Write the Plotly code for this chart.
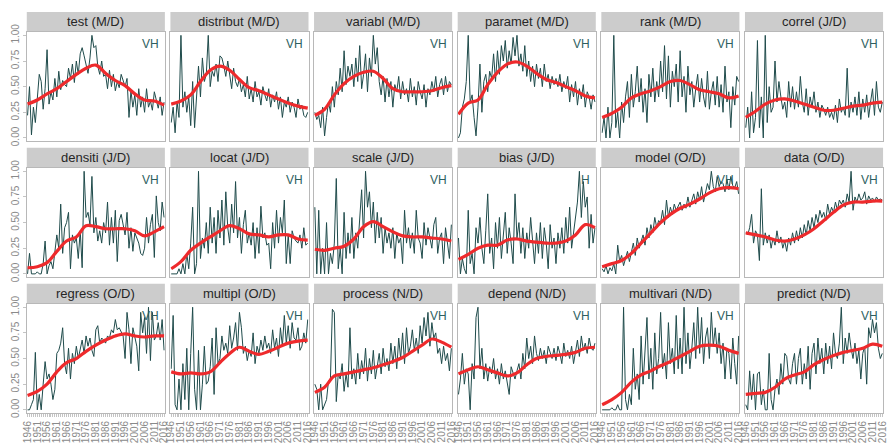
import plotly.graph_objects as go

# ---- data -------------------------------------------------------------
years = list(range(1946, 2017))
trend_years = list(range(1946, 2017, 5))
year_ticks = list(range(1946, 2017, 5))
y_ticks = [0.0, 0.25, 0.5, 0.75, 1.0]
y_tick_text = ["0.00", "0.25", "0.50", "0.75", "1.00"]

panel_titles = ["test (M/D)", "distribut (M/D)", "variabl (M/D)", "paramet (M/D)",
                "rank (M/D)", "correl (J/D)", "densiti (J/D)", "locat (J/D)",
                "scale (J/D)", "bias (J/D)", "model (O/D)", "data (O/D)",
                "regress (O/D)", "multipl (O/D)", "process (N/D)", "depend (N/D)",
                "multivari (N/D)", "predict (N/D)"]
panel_badges = ["VH", "VH", "VH", "VH", "VH", "VH", "VH", "VH", "VH", "H",
                "VH", "VH", "VH", "VH", "VH", "VH", "VH", "VH"]

test_vals = [0.22, 0.50, 0.03, 0.30, 0.15, 0.38, 0.62, 0.55, 0.28, 0.48,
             0.86, 0.33, 0.45, 0.37, 0.58, 0.40, 0.65, 0.47, 0.56, 0.52,
             0.50, 0.68, 0.58, 0.72, 0.54, 0.75, 0.62, 0.82, 0.88, 0.80,
             0.70, 0.63, 0.78, 1.00, 0.88, 0.90, 0.70, 0.62, 0.75, 0.60,
             0.62, 0.48, 0.66, 0.50, 0.62, 0.46, 0.55, 0.49, 0.62, 0.55,
             0.50, 0.58, 0.20, 0.46, 0.30, 0.42, 0.22, 0.48, 0.30, 0.40,
             0.25, 0.48, 0.30, 0.36, 0.27, 0.45, 0.38, 0.29, 0.40, 0.22, 0.35]
test_trend = [0.33, 0.37, 0.43, 0.48, 0.55, 0.62, 0.68, 0.71, 0.63, 0.56, 0.51, 0.43, 0.37, 0.36, 0.32]

distribut_vals = [0.15, 0.30, 0.05, 0.35, 0.20, 1.00, 0.30, 0.45, 0.25, 0.40,
                  0.12, 0.55, 0.10, 0.45, 0.70, 0.40, 0.78, 0.55, 0.62, 1.00,
                  0.50, 0.65, 0.60, 0.72, 0.55, 0.80, 0.78, 0.70, 0.60, 0.75,
                  0.62, 0.48, 0.68, 0.55, 0.50, 0.58, 0.45, 0.52, 0.40, 0.60,
                  0.38, 0.48, 0.35, 0.55, 0.40, 0.45, 0.32, 0.50, 0.42, 0.36,
                  0.48, 0.30, 0.42, 0.35, 0.45, 0.28, 0.40, 0.20, 0.35, 0.30,
                  0.40, 0.25, 0.35, 0.30, 0.20, 0.38, 0.28, 0.32, 0.22, 0.20, 0.25]
distribut_trend = [0.33, 0.36, 0.42, 0.55, 0.66, 0.70, 0.66, 0.57, 0.49, 0.46, 0.42, 0.38, 0.34, 0.31, 0.29]

variabl_vals = [0.25, 0.18, 0.22, 0.10, 0.30, 0.02, 0.20, 0.35, 0.25, 0.50,
                0.30, 0.55, 0.42, 0.68, 0.45, 0.85, 0.52, 0.70, 0.60, 0.72,
                0.50, 0.78, 0.55, 0.90, 0.48, 0.62, 0.82, 0.45, 0.78, 0.60,
                1.00, 0.72, 0.88, 0.55, 0.42, 0.60, 0.35, 0.58, 0.40, 0.55,
                0.30, 0.52, 0.45, 0.60, 0.38, 0.55, 0.42, 0.48, 0.35, 0.58,
                0.40, 0.50, 0.32, 0.55, 0.45, 0.38, 0.52, 0.30, 0.48, 0.42,
                0.55, 0.45, 0.60, 0.40, 0.52, 0.58, 0.42, 0.60, 0.45, 0.55, 0.52]
variabl_trend = [0.22, 0.28, 0.42, 0.53, 0.60, 0.64, 0.65, 0.58, 0.48, 0.45, 0.45, 0.45, 0.46, 0.49, 0.51]

paramet_vals = [0.00, 0.05, 0.30, 0.38, 0.55, 1.00, 0.35, 0.42, 0.20, 0.02,
                0.30, 0.72, 0.25, 0.55, 0.62, 0.45, 0.65, 0.58, 0.82, 0.55,
                0.85, 0.62, 0.90, 0.75, 0.95, 0.68, 0.85, 0.72, 0.98, 0.80,
                1.00, 0.70, 0.82, 0.65, 0.90, 0.60, 0.75, 0.55, 0.70, 0.50,
                0.72, 0.58, 0.68, 0.50, 0.72, 0.55, 0.62, 0.48, 0.60, 0.52,
                0.58, 0.50, 0.62, 0.45, 0.55, 0.48, 0.60, 0.35, 0.52, 0.40,
                0.55, 0.32, 0.48, 0.38, 0.52, 0.30, 0.45, 0.40, 0.28, 0.42, 0.35]
paramet_trend = [0.23, 0.34, 0.37, 0.52, 0.64, 0.72, 0.74, 0.70, 0.63, 0.57, 0.54, 0.50, 0.46, 0.41, 0.39]

rank_vals = [0.05, 0.20, 0.00, 0.30, 0.00, 0.15, 1.00, 0.10, 0.25, 0.00,
             0.35, 0.15, 0.40, 0.55, 0.20, 0.62, 0.30, 0.45, 0.70, 0.35,
             0.58, 0.25, 0.48, 0.15, 0.62, 0.40, 0.68, 0.35, 0.55, 0.40,
             0.75, 0.45, 0.90, 0.38, 0.80, 0.30, 0.65, 0.50, 0.72, 0.35,
             0.85, 0.40, 0.60, 0.25, 0.70, 0.42, 0.55, 0.30, 0.48, 0.62,
             0.35, 0.58, 0.40, 0.30, 0.65, 0.28, 0.45, 0.55, 0.32, 0.60,
             0.30, 0.52, 0.25, 0.70, 0.35, 0.45, 0.10, 0.50, 0.32, 0.60, 0.55]
rank_trend = [0.20, 0.24, 0.30, 0.39, 0.43, 0.46, 0.50, 0.55, 0.56, 0.52, 0.47, 0.45, 0.43, 0.39, 0.41]

correl_vals = [0.10, 0.30, 0.00, 0.45, 0.05, 0.20, 0.95, 0.10, 0.40, 0.00,
               1.00, 0.15, 0.50, 0.25, 0.30, 0.75, 0.35, 0.55, 0.40, 0.28,
               0.35, 0.20, 0.55, 0.30, 0.50, 0.28, 0.45, 0.30, 0.60, 0.35,
               0.25, 0.48, 0.22, 0.40, 0.30, 0.45, 0.25, 0.35, 0.20, 0.32,
               0.28, 0.22, 0.30, 0.20, 0.25, 0.18, 0.32, 0.15, 0.38, 0.25,
               0.30, 0.22, 0.68, 0.20, 0.35, 0.25, 0.40, 0.22, 0.45, 0.18,
               0.38, 0.25, 0.42, 0.20, 0.35, 0.48, 0.22, 0.55, 0.30, 0.25, 0.35]
correl_trend = [0.20, 0.26, 0.33, 0.37, 0.38, 0.36, 0.33, 0.30, 0.27, 0.27, 0.29, 0.31, 0.32, 0.34, 0.35]

densiti_vals = [0.00, 0.20, 0.00, 0.00, 0.00, 0.02, 0.00, 0.00, 0.10, 0.32,
                0.00, 0.08, 0.12, 0.05, 0.20, 0.38, 0.25, 0.68, 0.20, 0.45,
                0.50, 0.60, 0.05, 0.38, 0.30, 0.35, 0.15, 0.42, 0.06, 1.00,
                0.55, 0.60, 0.48, 0.95, 0.40, 0.55, 0.32, 0.42, 0.30, 0.50,
                0.40, 0.70, 0.28, 0.55, 0.30, 0.62, 0.12, 0.52, 0.58, 0.48,
                0.38, 0.60, 0.25, 0.45, 0.22, 0.40, 0.35, 0.30, 0.20, 0.18,
                0.25, 0.55, 0.30, 0.48, 0.58, 0.16, 0.76, 0.50, 0.42, 0.70, 0.55]
densiti_trend = [0.06, 0.07, 0.11, 0.22, 0.32, 0.36, 0.47, 0.46, 0.44, 0.44, 0.44, 0.42, 0.37, 0.41, 0.46]

locat_vals = [0.00, 0.00, 0.00, 0.00, 0.05, 0.00, 0.10, 0.00, 0.20, 0.05,
              0.30, 0.65, 0.00, 0.10, 1.00, 0.15, 0.35, 0.25, 0.50, 0.20,
              0.65, 0.30, 0.55, 0.20, 0.62, 0.35, 0.72, 0.28, 0.80, 0.45,
              0.30, 0.68, 0.40, 0.90, 0.35, 0.55, 0.20, 0.48, 0.62, 0.30,
              0.40, 0.28, 0.50, 0.15, 0.45, 0.20, 0.66, 0.35, 0.40, 0.28,
              0.30, 0.05, 0.50, 0.25, 0.62, 0.30, 0.55, 0.40, 0.72, 0.10,
              0.38, 0.10, 0.42, 0.35, 0.32, 0.30, 0.38, 0.25, 0.45, 0.28, 0.30]
locat_trend = [0.05, 0.12, 0.23, 0.30, 0.36, 0.42, 0.47, 0.44, 0.39, 0.38, 0.36, 0.38, 0.38, 0.34, 0.33]

scale_vals = [0.65, 0.00, 0.62, 0.00, 0.25, 0.00, 0.50, 0.00, 0.20, 0.10,
              0.30, 0.93, 0.05, 0.25, 0.00, 0.60, 0.15, 0.40, 0.20, 0.55,
              0.15, 0.40, 0.25, 0.60, 0.82, 0.35, 1.00, 0.65, 0.80, 0.45,
              0.70, 0.30, 0.60, 0.35, 0.55, 0.20, 0.45, 0.30, 0.40, 0.25,
              0.45, 0.15, 0.40, 0.30, 0.35, 0.10, 0.62, 0.30, 0.45, 0.25,
              0.40, 0.20, 0.62, 0.35, 0.30, 0.15, 0.50, 0.28, 0.45, 0.35,
              0.25, 0.48, 0.55, 0.20, 0.35, 0.40, 0.10, 0.45, 0.30, 0.15, 0.48]
scale_trend = [0.24, 0.23, 0.25, 0.27, 0.34, 0.46, 0.51, 0.46, 0.41, 0.37, 0.36, 0.36, 0.35, 0.34, 0.32]

bias_vals = [0.35, 0.00, 0.15, 0.05, 0.00, 0.62, 0.10, 0.20, 0.00, 0.45,
             0.30, 0.55, 0.25, 0.10, 0.42, 0.78, 0.20, 0.35, 0.05, 0.50,
             0.25, 0.55, 0.15, 0.40, 0.60, 0.20, 0.45, 0.30, 0.10, 0.78,
             0.35, 0.50, 0.20, 0.45, 0.15, 0.40, 0.25, 0.55, 0.30, 0.10,
             0.40, 0.20, 0.50, 0.15, 0.45, 0.30, 0.05, 0.48, 0.25, 0.35,
             0.10, 0.40, 0.25, 0.45, 0.20, 0.55, 0.30, 0.65, 0.25, 0.40,
             0.50, 0.70, 1.00, 0.55, 0.90, 0.65, 0.75, 0.25, 0.58, 0.30, 0.45]
bias_trend = [0.14, 0.19, 0.25, 0.28, 0.28, 0.33, 0.34, 0.32, 0.31, 0.30, 0.30, 0.32, 0.38, 0.48, 0.45]

model_vals = [0.05, 0.02, 0.08, 0.00, 0.06, 0.03, 0.10, 0.00, 0.28, 0.12,
              0.18, 0.08, 0.15, 0.22, 0.12, 0.20, 0.30, 0.18, 0.35, 0.25,
              0.32, 0.38, 0.28, 0.45, 0.35, 0.48, 0.40, 0.55, 0.45, 0.52,
              0.50, 0.62, 0.48, 0.72, 0.55, 0.65, 0.58, 0.68, 0.62, 0.66,
              0.70, 0.62, 0.68, 0.64, 0.75, 0.65, 0.72, 0.78, 0.68, 0.80,
              0.72, 0.85, 0.70, 0.78, 0.88, 0.82, 1.00, 0.85, 0.80, 0.95,
              0.85, 0.90, 0.88, 0.80, 0.92, 0.82, 0.95, 0.86, 0.84, 0.90, 0.78]
model_trend = [0.07, 0.10, 0.13, 0.20, 0.30, 0.40, 0.50, 0.58, 0.64, 0.68, 0.73, 0.79, 0.83, 0.84, 0.83]

data_vals = [0.40, 0.38, 0.45, 0.58, 0.30, 0.42, 0.38, 0.13, 0.83, 0.28,
             0.40, 0.30, 0.38, 0.25, 0.35, 0.28, 0.42, 0.30, 0.36, 0.25,
             0.32, 0.22, 0.35, 0.28, 0.40, 0.30, 0.42, 0.32, 0.45, 0.35,
             0.48, 0.38, 0.52, 0.42, 0.55, 0.45, 0.58, 0.50, 0.62, 0.55,
             0.60, 0.52, 0.68, 0.58, 0.65, 0.60, 0.70, 0.62, 0.72, 0.68,
             0.72, 0.65, 0.78, 0.70, 1.00, 0.62, 0.75, 0.70, 0.78, 0.72,
             0.74, 0.80, 0.68, 0.76, 0.72, 0.74, 0.70, 0.75, 0.72, 0.73, 0.72]
data_trend = [0.40, 0.38, 0.36, 0.33, 0.32, 0.34, 0.38, 0.44, 0.52, 0.60, 0.67, 0.70, 0.70, 0.71, 0.71]

regress_vals = [0.00, 0.00, 0.05, 0.10, 0.56, 0.00, 0.15, 0.00, 0.25, 0.47,
                0.30, 0.35, 0.25, 0.10, 0.20, 0.55, 0.58, 0.65, 0.80, 0.45,
                0.35, 0.60, 0.30, 0.55, 0.45, 0.62, 0.50, 0.58, 0.68, 0.55,
                0.72, 0.62, 0.70, 0.58, 0.52, 0.78, 0.82, 0.65, 0.70, 0.68,
                0.65, 0.72, 0.70, 0.78, 0.75, 0.88, 0.78, 0.80, 0.75, 0.72,
                0.50, 0.95, 0.78, 0.45, 0.80, 0.70, 0.62, 0.38, 0.95, 0.75,
                0.90, 0.55, 1.00, 0.48, 0.95, 0.68, 0.72, 0.85, 0.68, 0.88, 0.58]
regress_trend = [0.14, 0.18, 0.25, 0.37, 0.46, 0.50, 0.57, 0.63, 0.68, 0.72, 0.74, 0.72, 0.71, 0.72, 0.72]

multipl_vals = [0.40, 0.92, 0.05, 0.00, 0.30, 0.00, 0.45, 0.10, 0.60, 0.00,
                0.55, 1.00, 0.20, 0.00, 0.58, 0.00, 0.25, 0.62, 0.25, 0.28,
                0.42, 0.70, 0.15, 0.80, 0.45, 0.50, 0.72, 0.58, 0.65, 0.55,
                0.82, 0.60, 0.70, 0.85, 0.58, 0.95, 0.80, 0.55, 0.62, 0.48,
                0.58, 0.52, 0.75, 0.45, 0.62, 0.55, 0.68, 0.58, 0.72, 0.60,
                0.65, 0.55, 0.78, 0.60, 0.70, 0.52, 0.80, 0.62, 0.92, 0.65,
                0.82, 0.60, 0.85, 0.70, 0.68, 0.80, 0.58, 0.62, 0.75, 0.65, 0.88]
multipl_trend = [0.37, 0.35, 0.36, 0.35, 0.37, 0.46, 0.55, 0.61, 0.57, 0.54, 0.57, 0.61, 0.65, 0.67, 0.68]

process_vals = [0.25, 0.20, 0.00, 0.25, 0.00, 0.05, 0.10, 0.28, 0.30, 0.98,
                0.95, 0.08, 0.35, 0.30, 0.45, 0.18, 0.35, 0.22, 0.80, 0.30,
                0.40, 0.25, 0.55, 0.30, 0.48, 0.35, 0.60, 0.28, 0.50, 0.35,
                0.58, 0.30, 0.45, 0.55, 0.35, 0.60, 0.42, 0.50, 0.38, 0.65,
                0.45, 0.62, 0.40, 0.70, 0.50, 0.75, 0.45, 0.80, 0.55, 0.62,
                0.78, 0.58, 0.70, 0.55, 0.82, 0.65, 0.90, 0.72, 0.95, 0.62,
                0.85, 0.70, 0.75, 0.55, 0.60, 0.45, 0.62, 0.48, 0.55, 0.38, 0.60]
process_trend = [0.17, 0.22, 0.33, 0.35, 0.37, 0.39, 0.41, 0.44, 0.47, 0.51, 0.57, 0.63, 0.69, 0.66, 0.61]

depend_vals = [0.15, 0.30, 0.55, 0.25, 0.40, 0.35, 0.00, 0.45, 0.30, 0.90,
               1.00, 0.40, 0.60, 0.30, 0.45, 0.28, 0.42, 0.35, 0.50, 0.30,
               0.40, 0.25, 0.45, 0.30, 0.38, 0.25, 0.15, 0.42, 0.35, 0.30,
               0.38, 0.45, 0.30, 0.55, 0.40, 0.70, 0.50, 0.62, 0.45, 0.72,
               0.55, 0.48, 0.60, 0.50, 0.58, 0.45, 0.62, 0.55, 0.50, 0.60,
               0.48, 0.62, 0.55, 0.45, 0.65, 0.52, 0.58, 0.50, 0.62, 0.45,
               0.55, 0.68, 0.52, 0.72, 0.58, 0.65, 0.55, 0.70, 0.60, 0.58, 0.65]
depend_trend = [0.35, 0.39, 0.42, 0.39, 0.36, 0.33, 0.36, 0.44, 0.50, 0.52, 0.53, 0.54, 0.56, 0.60, 0.61]

multivari_vals = [0.00, 0.00, 0.00, 0.00, 0.00, 0.02, 0.00, 0.00, 0.05, 0.00,
                  0.00, 1.00, 0.10, 0.00, 0.15, 0.05, 0.60, 0.20, 0.35, 0.10,
                  0.72, 0.25, 0.55, 0.90, 0.30, 0.60, 0.20, 0.75, 0.35, 0.50,
                  0.95, 0.40, 0.55, 0.30, 0.85, 0.45, 0.60, 0.35, 0.92, 0.40,
                  0.70, 0.35, 1.00, 0.45, 0.75, 0.40, 0.60, 0.85, 0.50, 1.00,
                  0.55, 0.90, 0.45, 0.70, 0.80, 0.50, 0.95, 0.62, 0.80, 0.55,
                  0.75, 0.45, 0.65, 0.30, 0.60, 0.55, 0.30, 0.70, 0.45, 0.25, 0.72]
multivari_trend = [0.05, 0.10, 0.17, 0.27, 0.34, 0.38, 0.43, 0.47, 0.52, 0.57, 0.62, 0.63, 0.62, 0.58, 0.55]

predict_vals = [0.05, 0.00, 0.38, 0.10, 0.35, 0.00, 0.35, 0.37, 0.05, 0.20,
                0.00, 0.00, 0.55, 0.10, 0.00, 0.20, 0.30, 0.15, 0.45, 0.25,
                0.55, 0.52, 0.30, 0.25, 0.45, 0.55, 0.25, 0.50, 0.60, 0.25,
                0.45, 0.30, 0.62, 0.20, 0.55, 0.65, 0.35, 0.70, 0.45, 0.60,
                0.35, 0.65, 0.45, 0.62, 0.40, 0.75, 0.55, 0.50, 0.65, 1.00,
                0.45, 0.70, 0.55, 0.75, 0.60, 0.50, 0.65, 0.45, 0.58, 0.30,
                0.55, 0.62, 0.25, 0.80, 0.70, 0.88, 0.75, 0.85, 0.60, 0.50, 0.55]
predict_trend = [0.15, 0.16, 0.17, 0.22, 0.30, 0.34, 0.37, 0.44, 0.49, 0.53, 0.56, 0.58, 0.60, 0.64, 0.62]

series_vals = [test_vals, distribut_vals, variabl_vals, paramet_vals, rank_vals, correl_vals,
               densiti_vals, locat_vals, scale_vals, bias_vals, model_vals, data_vals,
               regress_vals, multipl_vals, process_vals, depend_vals, multivari_vals, predict_vals]
series_trend = [test_trend, distribut_trend, variabl_trend, paramet_trend, rank_trend, correl_trend,
                densiti_trend, locat_trend, scale_trend, bias_trend, model_trend, data_trend,
                regress_trend, multipl_trend, process_trend, depend_trend, multivari_trend, predict_trend]

# ---- layout geometry (pixels) ----------------------------------------
W, H = 893, 448
NCOL, NROW = 6, 3
left0, right_end = 22, 887
gap = 5.6
pw = (right_end - left0 - gap * (NCOL - 1)) / NCOL
strip_tops = [4, 144, 284]
strip_h = 20
plot_h = 112

LINE_COL = "#1f4b4b"
SMOOTH_COL = "#ee2a2c"
BORDER_COL = "#b8b8b8"
STRIP_COL = "#cccccc"
TICK_FONT = dict(family="Liberation Sans, Arial, sans-serif", size=10, color="#8a8a8a")

fig = go.Figure()
layout = dict(
    width=W, height=H,
    margin=dict(l=0, r=0, t=0, b=0),
    paper_bgcolor="white", plot_bgcolor="white",
    showlegend=False,
    shapes=[], annotations=[],
)

for i, (vals, trend) in enumerate(zip(series_vals, series_trend)):
    r, c = divmod(i, NCOL)
    k = i + 1
    xa = "x" if k == 1 else f"x{k}"
    ya = "y" if k == 1 else f"y{k}"
    xkey = "xaxis" if k == 1 else f"xaxis{k}"
    ykey = "yaxis" if k == 1 else f"yaxis{k}"

    x0 = left0 + c * (pw + gap)
    x1 = x0 + pw
    st = strip_tops[r]
    ptop = st + strip_h + 1
    pbot = ptop + plot_h

    bottom_row = (r == NROW - 1)
    first_col = (c == 0)

    layout[xkey] = dict(
        domain=[x0 / W, x1 / W], anchor=ya,
        range=[1945.6, 2016.4],
        tickmode="array", tickvals=year_ticks, ticktext=[str(t) for t in year_ticks],
        showticklabels=bottom_row, tickangle=-90, tickfont=TICK_FONT,
        ticks="outside" if bottom_row else "", ticklen=3, tickcolor="#c4c4c4", tickwidth=1,
        minor=dict(dtick=1, tick0=1946, ticks="outside" if bottom_row else "", ticklen=3,
                   tickcolor="#c4c4c4", tickwidth=1, showgrid=False),
        showgrid=False, zeroline=False,
        showline=True, mirror=True, linecolor=BORDER_COL, linewidth=1,
        fixedrange=True,
    )
    layout[ykey] = dict(
        domain=[1 - pbot / H, 1 - ptop / H], anchor=xa,
        range=[-0.03, 1.03],
        tickmode="array", tickvals=y_ticks, ticktext=y_tick_text,
        showticklabels=first_col, tickangle=-90, tickfont=TICK_FONT,
        ticks="outside" if first_col else "", ticklen=3, tickcolor="#c4c4c4",
        showgrid=False, zeroline=False,
        showline=True, mirror=True, linecolor=BORDER_COL, linewidth=1,
        fixedrange=True,
    )

    fig.add_trace(go.Scatter(
        x=years, y=vals, xaxis=xa, yaxis=ya, mode="lines",
        line=dict(color=LINE_COL, width=1), hoverinfo="skip",
    ))
    fig.add_trace(go.Scatter(
        x=trend_years, y=trend, xaxis=xa, yaxis=ya, mode="lines",
        line=dict(color=SMOOTH_COL, width=3.2, shape="spline", smoothing=1.0),
        hoverinfo="skip",
    ))

    # facet strip
    layout["shapes"].append(dict(
        type="rect", xref="paper", yref="paper",
        x0=x0 / W, x1=x1 / W, y0=1 - (st + strip_h) / H, y1=1 - st / H,
        fillcolor=STRIP_COL, line=dict(width=0), layer="below",
    ))
    layout["annotations"].append(dict(
        xref="paper", yref="paper", x=(x0 + x1) / 2 / W, y=1 - (st + strip_h / 2) / H,
        text=panel_titles[i], showarrow=False, xanchor="center", yanchor="middle",
        font=dict(family="Liberation Sans, Arial, sans-serif", size=13, color="#262626"),
    ))
    # rating badge
    layout["annotations"].append(dict(
        xref=f"{xa} domain", yref=f"{ya} domain", x=0.975, y=0.975,
        text=panel_badges[i], showarrow=False, xanchor="right", yanchor="top",
        font=dict(family="Liberation Sans, Arial, sans-serif", size=12, color="#2e5f5f"),
    ))

fig.update_layout(**layout)
fig.write_html("out.html")
